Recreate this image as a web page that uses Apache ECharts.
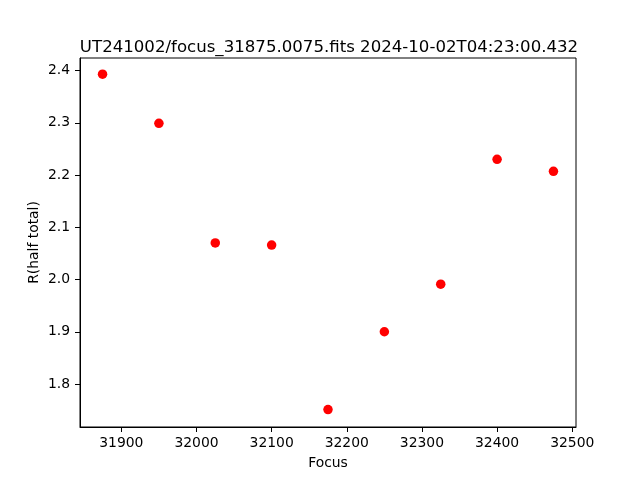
<!DOCTYPE html>
<html>
<head>
<meta charset="utf-8">
<script src="https://cdn.jsdelivr.net/npm/echarts@6/dist/echarts.min.js"></script>
<style>html,body{margin:0;padding:0;background:#fff}#c{width:640px;height:480px}</style>
</head>
<body>
<div id="c"></div>
<script>
const titleText = 'UT241002/focus_31875.0075.fits 2024-10-02T04:23:00.432';
const focusValues = [31875, 31950, 32025, 32100, 32175, 32250, 32325, 32400, 32475];
const rValues = [2.393, 2.299, 2.070, 2.066, 1.751, 1.900, 1.991, 2.230, 2.207];
const xTicks = [31900, 32000, 32100, 32200, 32300, 32400, 32500];
const yTicks = [1.8, 1.9, 2.0, 2.1, 2.2, 2.3, 2.4];

const font = 'DejaVu Sans';
const chart = echarts.init(document.getElementById('c'), null, {renderer: 'canvas'});
chart.setOption({
  animation: false,
  backgroundColor: '#fff',
  title: {
    text: titleText,
    left: 324, top: 34, textAlign: 'center',
    textStyle: {fontFamily: font, fontSize: 16.6, fontWeight: 'normal', color: '#000'}
  },
  grid: {left: 80, right: 64, top: 58, bottom: 53, show: true, borderColor: '#000', borderWidth: 1, backgroundColor: 'transparent'},
  xAxis: {
    type: 'value', min: 31845, max: 32505,
    name: 'Focus', nameLocation: 'middle', nameGap: 29, nameMoveOverlap: false,
    nameTextStyle: {fontFamily: font, fontSize: 13.9, color: '#000'},
    splitLine: {show: false},
    axisLine: {show: true, onZero: false, lineStyle: {color: '#000', width: 1}},
    axisTick: {show: true, length: 5, lineStyle: {color: '#000'}, customValues: xTicks},
    axisLabel: {fontFamily: font, fontSize: 13.9, color: '#000', margin: 9, customValues: xTicks, formatter: v => String(v)}
  },
  yAxis: {
    type: 'value', min: 1.7177, max: 2.424,
    name: 'R(half total)', nameLocation: 'middle', nameGap: 39, nameRotate: 90, nameMoveOverlap: false,
    nameTextStyle: {fontFamily: font, fontSize: 13.9, color: '#000'},
    splitLine: {show: false},
    axisLine: {show: true, onZero: false, lineStyle: {color: '#000', width: 1}},
    axisTick: {show: true, length: 5, lineStyle: {color: '#000'}, customValues: yTicks},
    axisLabel: {fontFamily: font, fontSize: 13.9, color: '#000', margin: 10, customValues: yTicks, formatter: v => v.toFixed(1)}
  },
  series: [{
    type: 'scatter',
    data: focusValues.map((f, i) => [f, rValues[i]]),
    symbol: 'circle', symbolSize: 9.5,
    itemStyle: {color: '#ff0000', opacity: 1}
  }]
});
</script>
</body>
</html>
